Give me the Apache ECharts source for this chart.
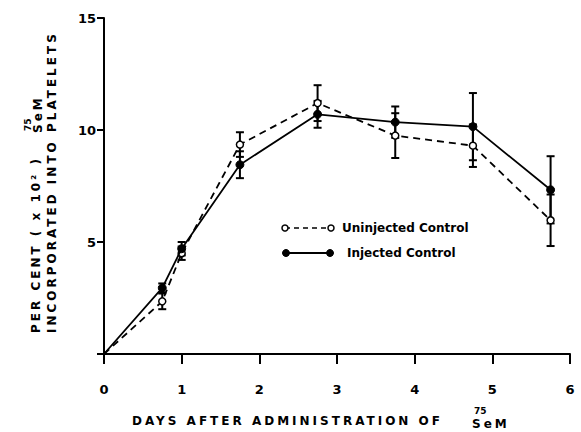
<!DOCTYPE html>
<html><head><meta charset="utf-8">
<script src="https://cdn.jsdelivr.net/npm/echarts@6/dist/echarts.min.js"></script>
<style>
html,body{margin:0;padding:0;background:#fff;}
#c{width:581px;height:432px;}
#c text[style*="spaced"], #c text[font-family*="spaced"]{letter-spacing:3px;}
</style></head><body><div id="c"></div>
<script>
const days = [0, 0.75, 1, 1.75, 2.75, 3.75, 4.75, 5.75];
const uninjected = [0, 2.35, 4.5, 9.35, 11.2, 9.75, 9.3, 5.97];
const uninjectedErr = [0, 0.35, 0.3, 0.55, 0.8, 1.0, 0.95, 1.15];
const injected = [0, 2.95, 4.7, 8.45, 10.7, 10.35, 10.15, 7.33];
const injectedErr = [0, 0.2, 0.3, 0.6, 0.6, 0.7, 1.5, 1.5];
const xTicks = [0, 1, 2, 3, 4, 5, 6];
const yTicks = [5, 10, 15];
const seriesNames = ['Uninjected Control', 'Injected Control'];
const xTitle = 'DAYS AFTER ADMINISTRATION OF';
const yTitle1 = 'PER CENT ( x 10² )';
const yTitle2 = 'INCORPORATED INTO PLATELETS';
const isotope = 'SeM';
const isoMass = '75';

const FONT = '"DejaVu Sans"';
const SPACED = '"DejaVu Sans", spaced';

function lineData(vals) {
  return days.map((d, i) => ({ value: [d, vals[i]], symbol: i === 0 ? 'none' : 'circle' }));
}
function errData(vals, errs) {
  return days.map((d, i) => [d, vals[i], errs[i]]);
}
function errRender(params, api) {
  const x = api.value(0), v = api.value(1), e = api.value(2);
  if (!e) return null;
  const hi = api.coord([x, v + e]), lo = api.coord([x, v - e]);
  const w = 4;
  const st = { stroke: '#000', lineWidth: 2 };
  return { type: 'group', children: [
    { type: 'line', shape: { x1: hi[0], y1: hi[1], x2: lo[0], y2: lo[1] }, style: st },
    { type: 'line', shape: { x1: hi[0] - w, y1: hi[1], x2: hi[0] + w, y2: hi[1] }, style: st },
    { type: 'line', shape: { x1: lo[0] - w, y1: lo[1], x2: lo[0] + w, y2: lo[1] }, style: st }
  ]};
}

const chart = echarts.init(document.getElementById('c'), null, { renderer: 'svg' });
chart.setOption({
  animation: false,
  backgroundColor: '#fff',
  grid: { left: 104, right: 11, top: 18, bottom: 78 },
  xAxis: {
    type: 'value', min: 0, max: 6, interval: 1,
    axisLine: { show: true, onZero: false, lineStyle: { color: '#000', width: 2 } },
    axisTick: { show: true, inside: false, length: 10, lineStyle: { color: '#000', width: 2 } },
    axisLabel: { margin: 29, color: '#000', fontFamily: FONT, fontWeight: 'bold', fontSize: 13,
      formatter: v => xTicks.includes(v) ? String(v) : '' },
    splitLine: { show: false }
  },
  yAxis: {
    type: 'value', min: 0, max: 15, interval: 5,
    axisLine: { show: true, onZero: false, lineStyle: { color: '#000', width: 2 } },
    axisTick: { show: true, inside: false, length: 7, lineStyle: { color: '#000', width: 2 } },
    axisLabel: { margin: 8, color: '#000', fontFamily: FONT, fontWeight: 'bold', fontSize: 13,
      formatter: v => yTicks.includes(v) ? String(v) : '' },
    splitLine: { show: false }
  },
  series: [
    { type: 'custom', name: seriesNames[0] + ' error', renderItem: errRender,
      data: errData(uninjected, uninjectedErr), encode: { x: 0, y: 1 }, z: 2, silent: true },
    { type: 'custom', name: seriesNames[1] + ' error', renderItem: errRender,
      data: errData(injected, injectedErr), encode: { x: 0, y: 1 }, z: 2, silent: true },
    { type: 'line', name: seriesNames[0], data: lineData(uninjected), z: 3,
      symbolSize: 7, showAllSymbol: true,
      lineStyle: { color: '#000', width: 1.8, type: [7, 5] },
      itemStyle: { color: '#fff', borderColor: '#000', borderWidth: 1.5 } },
    { type: 'line', name: seriesNames[1], data: lineData(injected), z: 4,
      symbolSize: 8, showAllSymbol: true,
      lineStyle: { color: '#000', width: 1.8 },
      itemStyle: { color: '#000', borderColor: '#000', borderWidth: 1 } }
  ],
  graphic: [
    { type: 'text', x: 36, y: 333, rotation: Math.PI / 2,
      style: { text: yTitle1, fontFamily: SPACED, fontWeight: 'bold', fontSize: 12, fill: '#000', align: 'left', verticalAlign: 'middle' } },
    { type: 'text', x: 28, y: 131, rotation: Math.PI / 2,
      style: { text: isoMass, fontFamily: FONT, fontWeight: 'bold', fontSize: 9, fill: '#000', align: 'left', verticalAlign: 'middle' } },
    { type: 'text', x: 38, y: 133, rotation: Math.PI / 2,
      style: { text: isotope, fontFamily: SPACED, fontWeight: 'bold', fontSize: 12, fill: '#000', align: 'left', verticalAlign: 'middle' } },
    { type: 'text', x: 52, y: 333, rotation: Math.PI / 2,
      style: { text: yTitle2, fontFamily: SPACED, fontWeight: 'bold', fontSize: 12, fill: '#000', align: 'left', verticalAlign: 'middle' } },
    { type: 'text', x: 132, y: 421,
      style: { text: xTitle, fontFamily: SPACED, fontWeight: 'bold', fontSize: 12, fill: '#000', align: 'left', verticalAlign: 'middle' } },
    { type: 'text', x: 474, y: 411,
      style: { text: isoMass, fontFamily: FONT, fontWeight: 'bold', fontSize: 9, fill: '#000', align: 'left', verticalAlign: 'middle' } },
    { type: 'text', x: 472, y: 424,
      style: { text: isotope, fontFamily: SPACED, fontWeight: 'bold', fontSize: 12, fill: '#000', align: 'left', verticalAlign: 'middle' } },
    // legend
    { type: 'line', shape: { x1: 285, y1: 228, x2: 331, y2: 228 }, style: { stroke: '#000', lineWidth: 1.6, lineDash: [5, 4] } },
    { type: 'circle', shape: { cx: 285, cy: 228, r: 3 }, style: { fill: '#fff', stroke: '#000', lineWidth: 1.5 } },
    { type: 'circle', shape: { cx: 331, cy: 228, r: 3 }, style: { fill: '#fff', stroke: '#000', lineWidth: 1.5 } },
    { type: 'text', x: 342, y: 228,
      style: { text: seriesNames[0], fontFamily: FONT, fontWeight: 'bold', fontSize: 12, fill: '#000', align: 'left', verticalAlign: 'middle' } },
    { type: 'line', shape: { x1: 286, y1: 253, x2: 330, y2: 253 }, style: { stroke: '#000', lineWidth: 1.8 } },
    { type: 'circle', shape: { cx: 286, cy: 253, r: 3.5 }, style: { fill: '#000', stroke: '#000', lineWidth: 1 } },
    { type: 'circle', shape: { cx: 330, cy: 253, r: 3.5 }, style: { fill: '#000', stroke: '#000', lineWidth: 1 } },
    { type: 'text', x: 347, y: 253,
      style: { text: seriesNames[1], fontFamily: FONT, fontWeight: 'bold', fontSize: 12, fill: '#000', align: 'left', verticalAlign: 'middle' } }
  ]
});
</script></body></html>
